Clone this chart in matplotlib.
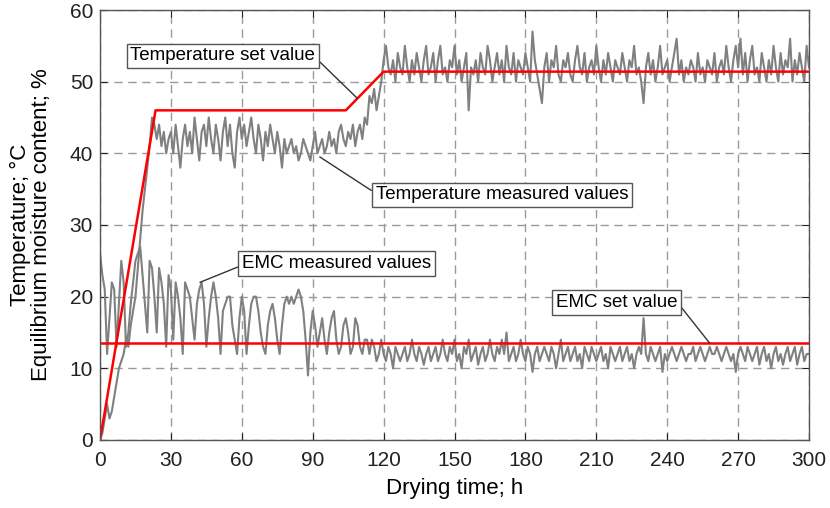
import matplotlib
matplotlib.use('Agg')
import matplotlib.pyplot as plt
import numpy as np

# 测量值（每小时读一次）
temp_measured = [
    0, 1, 3, 5, 3, 4, 6, 8, 10, 11,
    12, 14, 13, 16, 18, 20, 24, 28, 32, 35,
    38, 41, 45, 44, 42, 44, 41, 43, 40, 42,
    43, 40, 44, 41, 38, 42, 44, 41, 43, 40,
    45, 42, 39, 43, 44, 41, 45, 42, 40, 44,
    42, 39, 43, 45, 41, 44, 40, 38, 43, 45,
    42, 44, 41, 43, 45, 42, 40, 44, 42, 39,
    43, 41, 44, 42, 40, 43, 41, 38, 42, 40,
    41, 42, 40, 41, 39, 40, 42, 41, 40, 39,
    41, 43, 40, 41, 42, 40, 41, 43, 41, 42,
    40, 43, 44, 42, 41, 43, 42, 44, 41, 43,
    44, 42, 45, 44, 48, 47, 49, 46, 48, 50,
    53, 55, 52, 51, 53, 50, 54, 52, 51, 55,
    52, 50, 53, 51, 54, 52, 50, 53, 55, 51,
    52, 54, 50, 53, 55, 51, 52, 50, 53, 52,
    55, 51, 53, 50, 52, 54, 46, 52, 51, 53,
    50, 54, 52, 51, 55, 53, 50, 52, 54, 51,
    53, 50, 55, 52, 51, 54, 50, 53, 52, 51,
    54, 52, 50, 57, 53, 51, 49, 47, 52, 54,
    50, 53, 52, 55, 51, 50, 53, 52, 54, 51,
    50, 53, 55, 52, 51, 54, 50, 52, 53, 51,
    55, 52, 50, 53, 51, 54, 52, 50, 53, 52,
    51, 54, 52, 50, 53, 52, 55, 51, 52, 50,
    47, 52, 54, 51, 53, 50, 52, 55, 51, 52,
    53, 50, 52, 54, 56, 51, 53, 50, 52, 51,
    53, 52, 50, 54, 51, 52, 50, 53, 52, 51,
    54, 50, 52, 53, 51, 55, 52, 50, 53, 55,
    52, 56, 51, 54, 50, 53, 55, 51, 52, 50,
    54, 52, 50, 53, 51, 55, 52, 50, 54, 51,
    53, 52, 56, 50, 53, 51, 54, 52, 50, 55,
    52,
]

emc_measured = [
    26, 23, 21, 12, 17, 22, 21, 13, 19, 25,
    22, 13, 15, 19, 22, 25, 26, 27, 23, 19,
    15, 25, 24, 20, 15, 24, 22, 19, 13, 23,
    21, 14, 22, 20, 17, 12, 22, 21, 20, 17,
    14, 19, 21, 22, 19, 13, 17, 20, 22, 20,
    17, 12, 18, 19, 20, 20, 16, 14, 12, 17,
    20, 18, 12, 16, 19, 20, 20, 18, 15, 13,
    12, 16, 18, 19, 17, 14, 12, 16, 19, 20,
    19, 20, 19, 20, 21, 20, 18, 14, 9, 15,
    18, 16, 13, 15, 17, 14, 12, 15, 17, 18,
    14, 12, 13, 16, 17, 15, 12, 13, 17, 16,
    13, 12, 14, 14, 12, 14, 13, 11, 12, 14,
    12, 11, 13, 12, 10, 13, 12, 11, 12, 13,
    11, 12, 14, 12, 11, 13, 12, 10.5, 12, 13,
    11, 12, 13, 11, 12, 14, 12, 11, 13, 12,
    14, 11, 12, 10, 13, 12, 14, 11, 12, 13,
    10.5, 12, 13, 11, 12, 14, 12, 11, 13, 12,
    14, 12, 15, 11, 12, 13, 11, 12, 14, 12,
    11, 13, 12, 9.5, 12, 13, 11, 12, 13, 12,
    11, 13, 12, 10, 12, 14, 11, 12, 13, 11,
    12, 13, 11, 12, 10, 13, 12, 11, 13, 12,
    11, 12, 13, 11, 12, 10, 13, 12, 11, 12,
    13, 11, 12, 13, 11, 12, 10, 12, 13, 12,
    17, 12, 11, 13, 12, 11, 12, 13, 9.5, 12,
    11, 12, 13, 12, 11, 12, 13, 12, 11, 12,
    12, 13, 11, 12, 13, 12, 11, 12, 13, 12,
    12, 13, 12, 11, 12, 13, 12, 11, 12, 9.5,
    12, 13, 12, 11, 13, 12, 11, 12, 13, 10.5,
    12, 13, 11, 12, 10, 12, 13, 11, 12, 10.5,
    12, 13, 11, 12, 13, 10.5, 12, 13, 11, 12,
    12,
]
hours = np.arange(len(temp_measured))

# 设定值
temp_set_x = [0, 23.5, 104, 120, 300]
temp_set_y = [0, 46, 46, 51.4, 51.4]
emc_set_x = [0, 300]
emc_set_y = [13.5, 13.5]

plt.rcParams['font.family'] = ['Liberation Sans', 'DejaVu Sans']

fig = plt.figure(figsize=(8.3, 5.08), dpi=100)
ax = fig.add_axes([0.1205, 0.1339, 0.8542, 0.8464])

ax.plot(hours, emc_measured, color='#808080', linewidth=1.5)
ax.plot(hours, temp_measured, color='#808080', linewidth=1.5)
ax.plot(temp_set_x, temp_set_y, color='#ff0000', linewidth=1.8)
ax.plot(emc_set_x, emc_set_y, color='#ff0000', linewidth=1.8)

ax.set_xlim(0, 300)
ax.set_ylim(0, 60)
ax.set_xticks(range(0, 301, 30))
ax.set_yticks(range(0, 61, 10))
ax.grid(True, color='#9a9a9a', linestyle=(0, (6, 4)), linewidth=1)
ax.set_axisbelow(True)
ax.tick_params(direction='in', top=True, right=True, length=5,
               labelsize=15, colors='#222222', pad=5)
ax.tick_params(axis='x', pad=8)
for s in ax.spines.values():
    s.set_color('#555555')
    s.set_linewidth(1)

ax.set_xlabel('Drying time; h', fontsize=16, labelpad=6)
ax.set_ylabel('Temperature; °C\nEquilibrium moisture content; %',
              fontsize=16, linespacing=1.0, labelpad=13)

box = dict(boxstyle='square,pad=0.2', facecolor='white',
           edgecolor='#555555', linewidth=1)
arrow = dict(arrowstyle='-', color='#333333', linewidth=1,
             shrinkA=0, shrinkB=0)
ann_fs = 13.5

ax.annotate('Temperature set value', xy=(108.8, 47.7), xytext=(52, 53.6),
            fontsize=ann_fs, ha='center', va='center', bbox=box,
            arrowprops=dict(arrow, relpos=(1, 0.4)))
ax.annotate('Temperature measured values', xy=(93, 39.5), xytext=(170, 34.2),
            fontsize=ann_fs, ha='center', va='center', bbox=box,
            arrowprops=dict(arrow, relpos=(0, 0.6)))
ax.annotate('EMC measured values', xy=(42.3, 22), xytext=(100, 24.6),
            fontsize=ann_fs, ha='center', va='center', bbox=box,
            arrowprops=dict(arrow, relpos=(0, 0.4)))
ax.annotate('EMC set value', xy=(258, 13.5), xytext=(218.6, 19.2),
            fontsize=ann_fs, ha='center', va='center', bbox=box,
            arrowprops=dict(arrow, relpos=(1, 0.5)))

fig.savefig('out.png', dpi=100)
